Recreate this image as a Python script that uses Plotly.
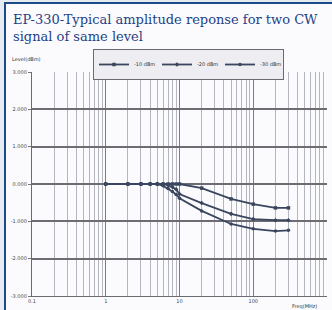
import plotly.graph_objects as go

# ---- data ----
freq_mhz = [1, 2, 3, 4, 5, 6, 7, 8, 9, 10, 20, 50, 100, 200, 300]
series_names = ["-10 dBm", "-20 dBm", "-30 dBm"]
level_a = [0, 0, 0, 0, 0, 0, 0, 0, 0, 0, -0.11, -0.40, -0.54, -0.64, -0.64]
level_b = [0, 0, 0, 0, 0, 0, -0.03, -0.08, -0.14, -0.27, -0.51, -0.80, -0.94, -0.97, -0.97]
level_c = [0, 0, 0, 0, 0, -0.05, -0.12, -0.20, -0.28, -0.38, -0.72, -1.07, -1.20, -1.26, -1.24]

x_tick_vals = [0.1, 1, 10, 100, 1000]
x_tick_text = ["0.1", "1", "10", "100", "1000"]
y_tick_vals = [3, 2, 1, 0, -1, -2, -3]
y_tick_text = ["3.000", "2.000", "1.000", "0.000", "-1.000", "-2.000", "-3.000"]
minor_vals = [m * d for d in (0.1, 1, 10, 100) for m in range(2, 10)]

title_lines = ["EP-330-Typical amplitude reponse for two CW", "signal of same level"]

line_color = "#3a455e"
fig = go.Figure()
for name, vals, sym in zip(series_names, [level_a, level_b, level_c], ["square", "diamond", "circle"]):
    fig.add_trace(go.Scatter(
        x=freq_mhz, y=vals, name=name, mode="lines+markers",
        line=dict(color=line_color, width=1.8),
        marker=dict(color=line_color, size=3.5, symbol=sym),
    ))

# plot area: x 32..327 px, y 72..296 px
L, R, T, B = 32, 327, 72, 296
W, H = 332, 310
pw, ph = R - L, B - T

def px_x(p):
    return (p - L) / pw

def px_y(p):
    return (B - p) / ph

fig.update_layout(
    width=W, height=H, autosize=False,
    margin=dict(l=L, r=W - R, t=T, b=H - B, pad=0, autoexpand=False),
    paper_bgcolor="#e6eaf1",
    plot_bgcolor="rgba(0,0,0,0)",
    showlegend=True,
    legend=dict(
        orientation="h", xref="container", yref="container",
        x=93 / W, y=1 - 49 / H, xanchor="left", yanchor="top",
        font=dict(size=5, color="#333", family="DejaVu Sans"),
        bgcolor="#eeeef2", bordercolor="#6a6a72", borderwidth=1,
        entrywidth=18, entrywidthmode="pixels", itemwidth=30,
        tracegroupgap=0,
    ),
    xaxis=dict(
        type="log", range=[-1, 3], automargin=False,
        tickvals=x_tick_vals, ticktext=x_tick_text,
        tickfont=dict(size=5, color="#444", family="DejaVu Sans"),
        showgrid=True, gridcolor="#7c7c84", gridwidth=1.2,
        minor=dict(tickmode="array", tickvals=minor_vals, showgrid=True,
                   gridcolor="#b4b6bf", gridwidth=1),
        zeroline=False, showline=True, linecolor="#6a6a70", linewidth=1.2,
        ticks="", mirror=False,
    ),
    yaxis=dict(
        range=[-3, 3], automargin=False,
        tickvals=y_tick_vals, ticktext=y_tick_text,
        tickfont=dict(size=5, color="#444", family="DejaVu Sans"),
        showgrid=True, gridcolor="#6c6c72", gridwidth=1.5,
        zeroline=False, showline=True, linecolor="#6a6a70", linewidth=1.2,
        ticks="outside", ticklen=3, tickcolor="#777",
    ),
    shapes=[dict(
        type="rect", xref="paper", yref="paper", layer="below",
        x0=px_x(5), x1=px_x(345), y0=px_y(330), y1=px_y(3),
        fillcolor="#fbfbfd", line=dict(color="#1f4a8a", width=2),
    )],
    annotations=[
        dict(text=title_lines[0], xref="paper", yref="paper", x=px_x(11), y=px_y(10),
             xanchor="left", yanchor="top", showarrow=False,
             font=dict(family="DejaVu Serif", size=13, color="#1d3f86")),
        dict(text=title_lines[1], xref="paper", yref="paper", x=px_x(11), y=px_y(27),
             xanchor="left", yanchor="top", showarrow=False,
             font=dict(family="DejaVu Serif", size=13, color="#1d3f86")),
        dict(text="Level(dBm)", xref="paper", yref="paper", x=px_x(10), y=px_y(54),
             xanchor="left", yanchor="top", showarrow=False,
             font=dict(family="DejaVu Sans", size=5, color="#333")),
        dict(text="Freq(MHz)", xref="paper", yref="paper", x=px_x(290), y=px_y(301),
             xanchor="left", yanchor="top", showarrow=False,
             font=dict(family="DejaVu Sans", size=5, color="#333")),
    ],
)

fig.write_html(
    "out.html",
    config={"displayModeBar": False},
    post_script="document.body.style.margin='0';document.body.style.overflow='hidden';",
)
